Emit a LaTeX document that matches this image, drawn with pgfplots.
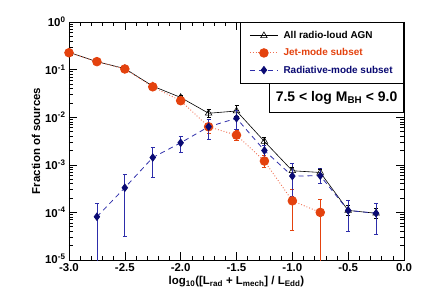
\documentclass[border=0pt]{standalone}
\usepackage{fontspec}
\setmainfont{Liberation Sans}
\usepackage{pgfplots}
\pgfplotsset{compat=1.18}
\usepackage{pgfplotstable}

\definecolor{jetc}{RGB}{228,66,14}
\definecolor{jetl}{RGB}{240,110,80}
\definecolor{radc}{RGB}{10,10,115}
\definecolor{radl}{RGB}{45,45,170}

\newcommand{\legf}{\fontsize{10}{12}\selectfont\bfseries}

\pgfplotstableread{
x      y       lo       hi
-3.0   0.230   0.210    0.250
-2.75  0.147   0.135    0.160
-2.5   0.105   0.096    0.115
-2.25  0.045   0.041    0.049
-2.0   0.026   0.023    0.029
-1.75  0.0121  0.0100   0.0147
-1.5   0.0135  0.0105   0.0178
-1.25  0.0031  0.0026   0.0037
-1.0   7.5e-4  6.3e-4   9.0e-4
-0.75  6.9e-4  5.8e-4   8.2e-4
-0.5   1.1e-4  0.86e-4  1.4e-4
-0.25  9.6e-5  7.5e-5   1.2e-4
}\allt

\pgfplotstableread{
x      y       lo       hi
-3.0   0.226   0.205    0.250
-2.75  0.147   0.135    0.160
-2.5   0.103   0.094    0.113
-2.25  0.0435  0.039    0.048
-2.0   0.0222  0.0195   0.025
-1.75  0.0063  0.0045   0.0088
-1.5   0.0042  0.0033   0.0052
-1.25  0.0012  0.0009   0.0016
-1.0   1.75e-4 4.2e-5   3.1e-4
-0.75  1.0e-4  1e-7     1.9e-4
}\jett

\pgfplotstableread{
x      y       lo       hi
-2.75  8.1e-5  1e-7     1.56e-4
-2.5   3.3e-4  3.2e-5   6.3e-4
-2.25  1.42e-3 5.4e-4   2.3e-3
-2.0   2.9e-3  1.8e-3   4.0e-3
-1.75  6.3e-3  3.5e-3   9.1e-3
-1.5   9.5e-3  5.5e-3   1.4e-2
-1.25  2.0e-3  1.4e-3   2.6e-3
-1.0   5.8e-4  2.2e-4   1.07e-3
-0.75  5.9e-4  4.1e-4   8.4e-4
-0.5   1.1e-4  3.9e-5   1.8e-4
-0.25  9.6e-5  3.5e-5   1.56e-4
}\radt

\begin{document}
\begin{tikzpicture}
\useasboundingbox (-69bp,-44bp) rectangle (356bp,260bp);
\begin{axis}[
  at={(0,0)}, anchor=south west,
  scale only axis, width=335bp, height=238bp,
  ymode=log, xmin=-3, xmax=0, ymin=1e-5, ymax=1,
  xtick={-3,-2.5,-2,-1.5,-1,-0.5,0},
  minor x tick num=4,
  xticklabels={-3.0,-2.5,-2.0,-1.5,-1.0,-0.5,0.0},
  ytick={1e-5,1e-4,1e-3,1e-2,1e-1,1},
  yticklabels={\raisebox{3bp}{10\textsuperscript{-5}},10\textsuperscript{-4},10\textsuperscript{-3},10\textsuperscript{-2},10\textsuperscript{-1},10\textsuperscript{0}},
  tick align=inside,
  major tick length=8bp, minor tick length=4bp,
  tick style={black, line width=0.6pt},
  axis line style={line width=0.8pt},
  tick label style={font=\fontsize{11.5}{13}\selectfont\bfseries},
  xlabel={log\textsubscript{10}([L\textsubscript{rad} + L\textsubscript{mech}] / L\textsubscript{Edd})},
  ylabel={Fraction of sources},
  label style={font=\fontsize{11.5}{13}\selectfont\bfseries},
  xlabel style={yshift=2bp},
  ylabel style={yshift=-2bp},
  legend style={at={(1,1)}, anchor=north east, draw=black, line width=0.8pt,
    fill=white, inner xsep=9bp, inner ysep=7bp, row sep=4.5bp,
    font=\legf, nodes={font=\legf}},
  legend cell align=left,
  legend image code/.code={\draw[#1,mark repeat=2,mark phase=2] plot coordinates {(0cm,0cm) (0.5cm,0cm) (1cm,0cm)};},
]
\addplot[black, line width=0.6pt, mark=triangle, mark size=3.8pt,
  mark options={solid, fill=white, line width=0.6pt},
  error bars/.cd, y dir=both, y explicit,
  error bar style={black, line width=0.6pt, solid},
  error mark options={rotate=90, mark size=2bp, black, line width=0.6pt}]
  table[x=x, y=y, y error plus expr={\thisrow{hi}-\thisrow{y}}, y error minus expr={\thisrow{y}-\thisrow{lo}}] {\allt};
\addlegendentry{\legf\hspace{3bp}All radio-loud AGN}
\addplot[jetl, line width=0.9pt, dotted, mark=*, mark size=4.3pt,
  mark options={solid, fill=jetc, draw=jetc},
  error bars/.cd, y dir=both, y explicit,
  error bar style={jetc, line width=0.8pt, solid},
  error mark options={rotate=90, mark size=2bp, jetc, line width=0.8pt}]
  table[x=x, y=y, y error plus expr={\thisrow{hi}-\thisrow{y}}, y error minus expr={\thisrow{y}-\thisrow{lo}}] {\jett};
\addlegendentry{\legf\hspace{3bp}\textcolor{jetc}{Jet-mode subset}}
\addplot[radl, line width=0.8pt, dash pattern=on 5bp off 4bp, mark=diamond*, mark size=3.7pt,
  mark options={solid, fill=radc, draw=radc},
  error bars/.cd, y dir=both, y explicit,
  error bar style={radl, line width=0.8pt, solid},
  error mark options={rotate=90, mark size=2bp, radl, line width=0.8pt}]
  table[x=x, y=y, y error plus expr={\thisrow{hi}-\thisrow{y}}, y error minus expr={\thisrow{y}-\thisrow{lo}}] {\radt};
\addlegendentry{\legf\hspace{3bp}\textcolor{radc}{Radiative-mode subset}}
\node[draw=black, line width=0.8pt, fill=white, anchor=north east,
  minimum width=134bp, minimum height=28.4bp, inner sep=2bp,
  font=\fontsize{14}{16}\selectfont\bfseries]
  at (rel axis cs:1,0.7424) {7.5 < log M\textsubscript{BH} < 9.0};
\end{axis}
\end{tikzpicture}
\end{document}
